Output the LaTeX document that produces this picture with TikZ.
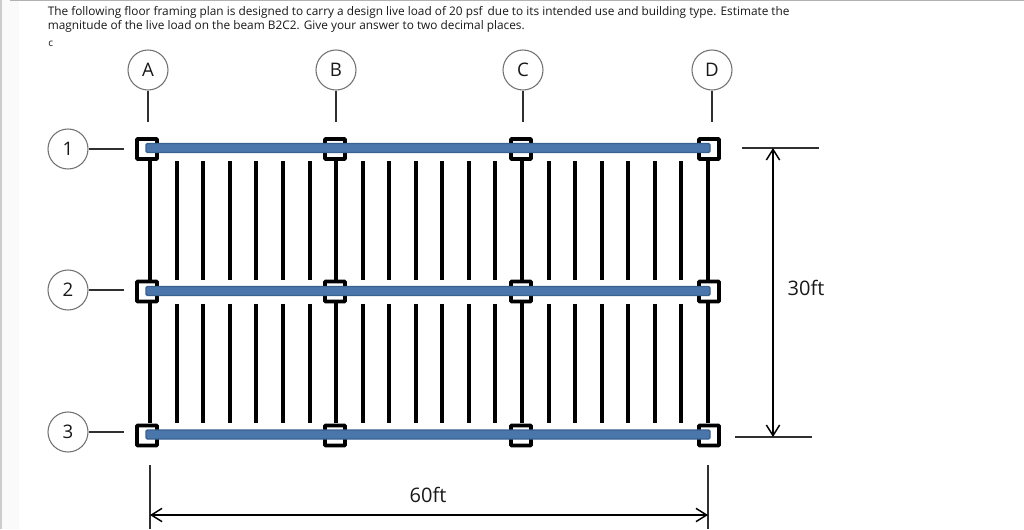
\documentclass[tikz,border=0pt]{standalone}
\usepackage{fontspec}
\setmainfont{Open Sans}
\usetikzlibrary{arrows.meta}
\definecolor{beamblue}{HTML}{4A76AC}
\definecolor{beamedge}{HTML}{38618F}
\definecolor{thinline}{HTML}{303030}
\begin{document}
\begin{tikzpicture}[x=0.75pt,y=-0.75pt,
 bubble/.style={circle,draw=black!55,line width=0.8pt,fill=white,minimum size=30pt,inner sep=0pt,font=\fontsize{14}{16}\selectfont,text=black!90},
 stem/.style={draw=thinline,line width=1.4pt},
 colbox/.style={draw=black,line width=2.9pt,fill=white,minimum size=15pt,inner sep=0pt,rounded corners=0.6pt},
 joist/.style={draw=black,line width=2.9pt},
 beam/.style={draw=beamedge,fill=beamblue,line width=1.1pt,rounded corners=1pt},
 dimline/.style={draw=thinline,line width=1.1pt},
 dimarrow/.style={draw=black,line width=1pt,{Straight Barb[length=8pt,width=10pt,line width=1.1pt]}-{Straight Barb[length=8pt,width=10pt,line width=1.1pt]}},
 label/.style={font=\fontsize{15}{17}\selectfont,text=black!90},
 para/.style={font=\fontsize{8.88}{11}\selectfont,text=black!90,anchor=west,inner sep=0pt}]
\useasboundingbox (0,0) rectangle (1024,529);
\fill[white] (0,0) rectangle (1024,529);
\fill[black!2] (0,0) rectangle (19,529);
\draw[black!20,line width=0.8pt] (1,0) -- (1,529);
\draw[black!30,line width=0.8pt] (10,0.5) -- (1024,0.5);
\node[para] (t1) at (47.5,12) {The following floor framing plan is designed to carry a design live load of 20 psf\, due to its intended use and building type. Estimate the};
\node[para] (t2) at (47.5,26) {magnitude of the live load on the beam B2C2. Give your answer to two decimal places.};
\node[para,font=\fontsize{7.5}{9}\selectfont] (t3) at (48,44) {c};
% columns and joists
\foreach \x in {150,336,522,708}{
 \draw[joist] (\x,161) -- (\x,280);
 \draw[joist] (\x,303) -- (\x,423);
}
\foreach \x in {177,203,230,256,283,310,363,389,416,442,469,495,549,575,602,628,655,681}{
 \draw[joist] (\x,161) -- (\x,280);
 \draw[joist] (\x,304) -- (\x,423);
}
% column boxes
\foreach \n/\x in {A/147,B/335,C/521,D/709}{
 \node[colbox] (c\n1) at (\x,149) {};
 \node[colbox] (c\n2) at (\x,291.5) {};
 \node[colbox] (c\n3) at (\x,435.5) {};
}
% beams
\foreach \r/\y in {1/148,2/291,3/434.5}{
 \draw[beam] (146,\y-4.5) rectangle (710,\y+4.5);
}
% bubbles
\foreach \n/\x in {A/148,B/336,C/523,D/712}{
 \node[bubble] (b\n) at (\x,70) {\n};
 \coordinate (s\n) at (\x,122);
 \draw[stem] (b\n.south) -- (s\n);
}
\foreach \n/\y in {1/149,2/290,3/432}{
 \node[bubble] (r\n) at (68,\y) {\n};
 \coordinate (e\n) at (124,\y);
 \draw[stem] (r\n.east) -- (e\n);
}
% dimensions
\coordinate (d1a) at (742,148); \coordinate (d1b) at (819,148);
\coordinate (d2a) at (735,437); \coordinate (d2b) at (812,437);
\draw[dimline] (d1a) -- (d1b);
\draw[dimline] (d2a) -- (d2b);
\coordinate (v1) at (773,148); \coordinate (v2) at (773,437);
\draw[dimarrow] (v1) -- (v2);
\coordinate (h1a) at (150,465); \coordinate (h1b) at (150,529);
\coordinate (h2a) at (708,465); \coordinate (h2b) at (708,529);
\draw[dimline] (h1a) -- (h1b);
\draw[dimline] (h2a) -- (h2b);
\coordinate (a1) at (150,515); \coordinate (a2) at (708,515);
\draw[dimarrow] (a1) -- (a2);
\node[label] (l30) at (806,288) {30ft};
\node[label] (l60) at (428,495) {60ft};
\end{tikzpicture}
\end{document}
